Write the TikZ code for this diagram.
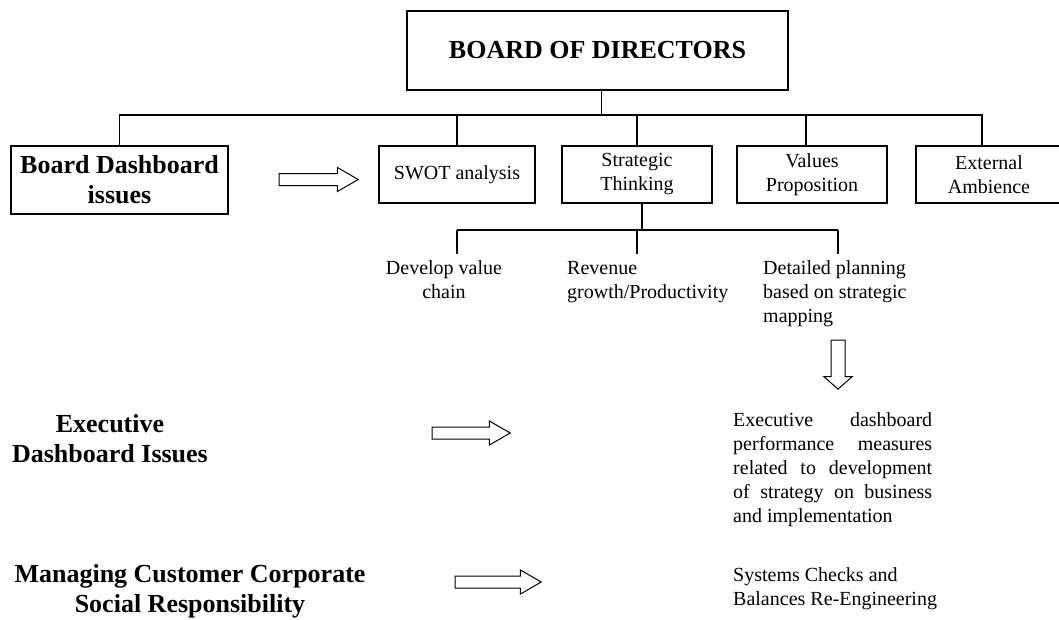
\documentclass[tikz,border=0pt]{standalone}
\usepackage{fontspec}
\setmainfont{Liberation Serif}
\usetikzlibrary{shapes.arrows}

\begin{document}
\begin{tikzpicture}[x=1pt,y=-1pt,
    box/.style={draw,line width=1.4pt,inner sep=0pt,align=center,font=\fontsize{20}{24}\selectfont},
    boldbox/.style={box,font=\fontsize{26}{30}\selectfont\bfseries},
    label/.style={inner sep=0pt,font=\fontsize{20}{24}\selectfont},
    boldlabel/.style={inner sep=0pt,align=center,font=\fontsize{26}{30}\selectfont\bfseries},
    hollow/.style={draw,single arrow,line width=1pt,inner xsep=0pt,inner ysep=5.5pt,minimum width=0pt,
        single arrow head extend=6pt,single arrow tip angle=60},
    wire/.style={line width=1.4pt}]
    \useasboundingbox (0,0) rectangle (1059,619);

    % Draw the top box and the boxes below it
    \node[boldbox,minimum width=381pt,minimum height=79pt] (bod) at (597.5,50.5) {BOARD OF DIRECTORS};
    \node[boldbox,minimum width=217pt,minimum height=68pt] (board) at (119.5,180) {Board Dashboard\\issues};
    \node[box,minimum width=156pt,minimum height=57pt] (swot) at (457,174.5) {SWOT analysis};
    \node[box,minimum width=150pt,minimum height=57pt] (strat) at (637,174.5) {Strategic\\Thinking};
    \node[box,minimum width=150pt,minimum height=57pt] (val) at (812,174.5) {Values\\Proposition};
    \node[box,minimum width=146pt,minimum height=57pt] (ext) at (989,174.5) {External\\Ambience};

    % Draw the hollow arrows
    \node[hollow,minimum height=79pt] (arr1) at (313.5,179.5) {};
    \node[hollow,minimum height=78pt] (arr2) at (466,433) {};
    \node[hollow,minimum height=86pt] (arr3) at (493,582) {};
    \node[hollow,minimum height=49pt,inner ysep=6.5pt,single arrow head extend=7pt,
        single arrow tip angle=97,rotate=-90] (darr) at (838,361.5) {};

    % Draw the texts under Strategic Thinking
    \node[label,align=center,anchor=base] (dev) at (444,298) {Develop value\\chain};
    \node[label,align=left,anchor=base west] (rev) at (567,298) {Revenue\\growth/Productivity};
    \node[label,align=left,anchor=base west] (plan) at (763,322) {Detailed planning\\based on strategic\\mapping};

    % Draw the lower rows
    \node[boldlabel,anchor=base] (exec) at (110,462) {Executive\\Dashboard Issues};
    \node[label,align=justify,text width=199pt,anchor=base west] (measure) at (733,426)
        {Executive dashboard performance measures related to development of strategy on business and implementation};
    \node[boldlabel,anchor=base] (csr) at (190,612) {Managing Customer Corporate\\Social Responsibility};
    \node[label,align=left,anchor=base west] (sys) at (733,605) {Systems Checks and\\Balances Re-Engineering};

    % Draw the tree lines
    \coordinate (bus) at (0,115);
    \coordinate (sub) at (0,230);
    \draw[wire] ([xshift=4pt]bod.south) -- ([xshift=4pt]bod.south |- bus);
    \draw[wire] (board.north) -- (board.north |- bus) -- ([xshift=-7pt]ext.north |- bus) -- ([xshift=-7pt]ext.north);
    \draw[wire] (swot.north |- bus) -- (swot.north);
    \draw[wire] (strat.north |- bus) -- (strat.north);
    \draw[wire] ([xshift=-6pt]val.north |- bus) -- ([xshift=-6pt]val.north);
    \draw[wire] ([xshift=5pt]strat.south) -- ([xshift=5pt]strat.south |- sub);
    \draw[wire] (swot.south |- sub) -- (darr.center |- sub);
    \draw[wire] (swot.south |- sub) -- ++(0,24);
    \draw[wire] (strat.south |- sub) -- ++(0,24);
    \draw[wire] (darr.center |- sub) -- ++(0,24);
\end{tikzpicture}
\end{document}
